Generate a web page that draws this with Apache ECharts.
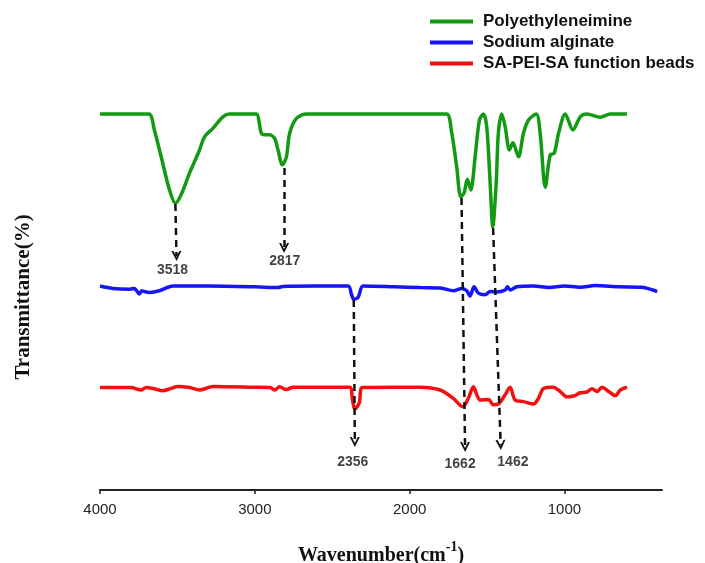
<!DOCTYPE html>
<html>
<head>
<meta charset="utf-8">
<script src="https://cdn.jsdelivr.net/npm/echarts@6/dist/echarts.min.js"></script>
<style>
  html, body { margin: 0; padding: 0; background: #ffffff; }
  #main { width: 705px; height: 563px; }
</style>
</head>
<body>
<div id="main"></div>
<script>
// wavenumber (cm-1), transmittance (offset, arbitrary units)
var peiData = [
  [4000, 94], [3850, 94], [3685, 94], [3649, 90], [3605, 83.3], [3551, 75], [3513, 71.7],
  [3476, 73.8], [3422, 79.2], [3357, 85], [3325, 88.3], [3271, 90.4], [3206, 93.3], [3163, 94],
  [3050, 94], [2991, 94], [2958, 89.2], [2937, 88.8], [2904, 88.8], [2872, 87.9], [2850, 85],
  [2822, 81.3], [2796, 83.3], [2775, 89.2], [2731, 92.9], [2667, 94], [2400, 94], [2100, 94],
  [1868, 94], [1761, 94], [1728, 89.2], [1696, 80.8], [1670, 73.3], [1649, 74.2], [1627, 77.7],
  [1605, 75], [1577, 83.3], [1549, 92.5], [1524, 94], [1502, 90.8], [1480, 76.7], [1463, 65.8],
  [1441, 76.7], [1427, 89.2], [1405, 94], [1383, 90.8], [1355, 85], [1333, 86.8], [1297, 83.3],
  [1265, 89.2], [1232, 92.5], [1182, 94], [1157, 89.2], [1124, 75.7], [1092, 83.8], [1066, 84.2],
  [1038, 89.2], [995, 94], [945, 90], [898, 93.3], [855, 94], [768, 93.2], [704, 94], [596, 94]
];

var saData = [
  [4000, 51], [3918, 50.4], [3810, 50.2], [3778, 50.4], [3746, 49], [3730, 49.8], [3713, 49.6],
  [3681, 49.4], [3616, 49.8], [3530, 51], [3300, 51], [3000, 50.8], [2850, 50.6], [2820, 50.9],
  [2600, 51], [2397, 51], [2375, 48.8], [2360, 47.7], [2333, 48.2], [2300, 51], [2100, 50.8],
  [1933, 50.6], [1800, 50.5], [1718, 49.8], [1663, 50.4], [1631, 49.8], [1610, 48.5], [1584, 50.8],
  [1556, 49.2], [1513, 48.8], [1480, 49.6], [1437, 49.5], [1383, 50], [1368, 50.8], [1351, 50],
  [1308, 50.8], [1200, 51], [1100, 50.6], [1000, 51], [900, 50.7], [800, 51.1], [650, 50.8],
  [500, 50.7], [430, 50], [401, 49.6]
];

var beadsData = [
  [4000, 25.6], [3800, 25.6], [3735, 25], [3702, 25.6], [3650, 25.3], [3595, 24.8], [3540, 25.4],
  [3498, 25.9], [3420, 25.6], [3357, 25], [3300, 25.6], [3271, 25.9], [3000, 25.7], [2900, 25.6],
  [2872, 25], [2840, 25.8], [2796, 25.1], [2753, 25.7], [2500, 25.7], [2387, 25.7], [2369, 22.5],
  [2354, 20.2], [2326, 21.7], [2304, 25.6], [2100, 25.7], [1933, 25.7], [1803, 25], [1718, 22.9],
  [1657, 20.8], [1621, 22.9], [1588, 25.8], [1566, 23.8], [1545, 22.5], [1491, 22.6], [1459, 21.3],
  [1427, 21.5], [1383, 23.8], [1351, 25.7], [1319, 22.5], [1265, 22.1], [1200, 21.5], [1168, 22.9],
  [1135, 25.4], [1071, 25.7], [1027, 24.6], [984, 23.3], [941, 23.5], [898, 24.3], [855, 24.5],
  [822, 25.3], [790, 24.6], [757, 25.7], [714, 24.6], [671, 23.6], [639, 25], [596, 25.7]
];

var seriesNames = ['Polyethyleneimine', 'Sodium alginate', 'SA-PEI-SA function beads'];
var xTicks = [4000, 3000, 2000, 1000];

// peak markers: label, arrow start, arrow tip, label position
var peakNames = ['3518', '2817', '2356', '1662', '1462'];
var arrowStart = [[3513, 71.5], [2811, 80.5], [2361, 47.5], [1665, 73], [1461, 65.5]];
var arrowEnd = [[3506, 58.5], [2811, 60.5], [2354, 12], [1642, 10.75], [1412, 11.25]];
var labelAt = [[3532, 55], [2807, 57.3], [2367, 7], [1674, 6.5], [1333, 7]];

var chart = echarts.init(document.getElementById('main'));

var arrows = [];
var labels = [];
for (var i = 0; i < peakNames.length; i++) {
  arrows.push({ coords: [arrowStart[i], arrowEnd[i]] });
  labels.push({ name: peakNames[i], value: labelAt[i] });
}

var chevron = 'path://M5,0 L10,9 L8,9 L5,3.6 L2,9 L0,9 Z';

var option = {
  backgroundColor: '#ffffff',
  animation: false,
  legend: {
    data: seriesNames,
    orient: 'vertical',
    left: 430,
    top: 13,
    padding: 0,
    icon: 'rect',
    itemWidth: 43,
    itemHeight: 4,
    itemGap: 4,
    textStyle: {
      fontFamily: 'Liberation Sans',
      fontWeight: 'bold',
      fontSize: 17,
      color: '#111',
      padding: [0, 0, 0, 5]
    }
  },
  grid: { left: 100, right: 43, top: 104, bottom: 73, outerBoundsMode: 'none', containLabel: false },
  xAxis: {
    type: 'value',
    inverse: true,
    min: 370,
    max: 4000,
    name: '{a|Wavenumber(cm}{s|-1}{a|)}',
    nameLocation: 'middle',
    nameGap: 50,
    nameTextStyle: {
      rich: {
        a: { fontFamily: 'Liberation Serif', fontWeight: 'bold', fontSize: 20, color: '#111', lineHeight: 26, verticalAlign: 'bottom' },
        s: { fontFamily: 'Liberation Serif', fontWeight: 'bold', fontSize: 14, color: '#111', lineHeight: 14, verticalAlign: 'top' }
      }
    },
    axisLine: { onZero: false, lineStyle: { color: '#222', width: 2 } },
    axisTick: { length: 4, customValues: xTicks, lineStyle: { color: '#222', width: 1.5 } },
    axisLabel: {
      customValues: xTicks,
      formatter: function (v) { return String(v); },
      margin: 12,
      fontFamily: 'Liberation Sans',
      fontSize: 15,
      color: '#222'
    },
    splitLine: { show: false }
  },
  yAxis: {
    type: 'value',
    min: 0,
    max: 96.5,
    name: 'Transmittance(%)',
    nameLocation: 'middle',
    nameGap: 66,
    nameTextStyle: {
      fontFamily: 'Liberation Serif',
      fontWeight: 'bold',
      fontSize: 21,
      color: '#111'
    },
    axisLine: { show: false },
    axisTick: { show: false },
    axisLabel: { show: false },
    splitLine: { show: false }
  },
  series: [
    {
      name: seriesNames[0],
      type: 'line',
      data: peiData,
      smooth: 0.3,
      showSymbol: false,
      color: '#139a13',
      lineStyle: { width: 3.5, color: '#139a13' },
      z: 3
    },
    {
      name: seriesNames[1],
      type: 'line',
      data: saData,
      smooth: 0.3,
      showSymbol: false,
      color: '#1515f5',
      lineStyle: { width: 3.5, color: '#1515f5' },
      z: 3
    },
    {
      name: seriesNames[2],
      type: 'line',
      data: beadsData,
      smooth: 0.3,
      showSymbol: false,
      color: '#f21010',
      lineStyle: { width: 3.5, color: '#f21010' },
      z: 3
    },
    {
      name: 'arrows',
      type: 'lines',
      coordinateSystem: 'cartesian2d',
      silent: true,
      symbol: ['none', chevron],
      symbolSize: [11, 10],
      lineStyle: { color: '#111', width: 2.5, type: [7, 5], opacity: 1 },
      data: arrows,
      z: 4
    },
    {
      name: 'peaks',
      type: 'scatter',
      silent: true,
      symbolSize: 0,
      data: labels,
      label: {
        show: true,
        position: 'inside',
        formatter: '{b}',
        fontFamily: 'Liberation Sans',
        fontWeight: 'bold',
        fontSize: 14,
        color: '#111'
      },
      z: 5
    }
  ]
};

chart.setOption(option);
</script>
</body>
</html>
